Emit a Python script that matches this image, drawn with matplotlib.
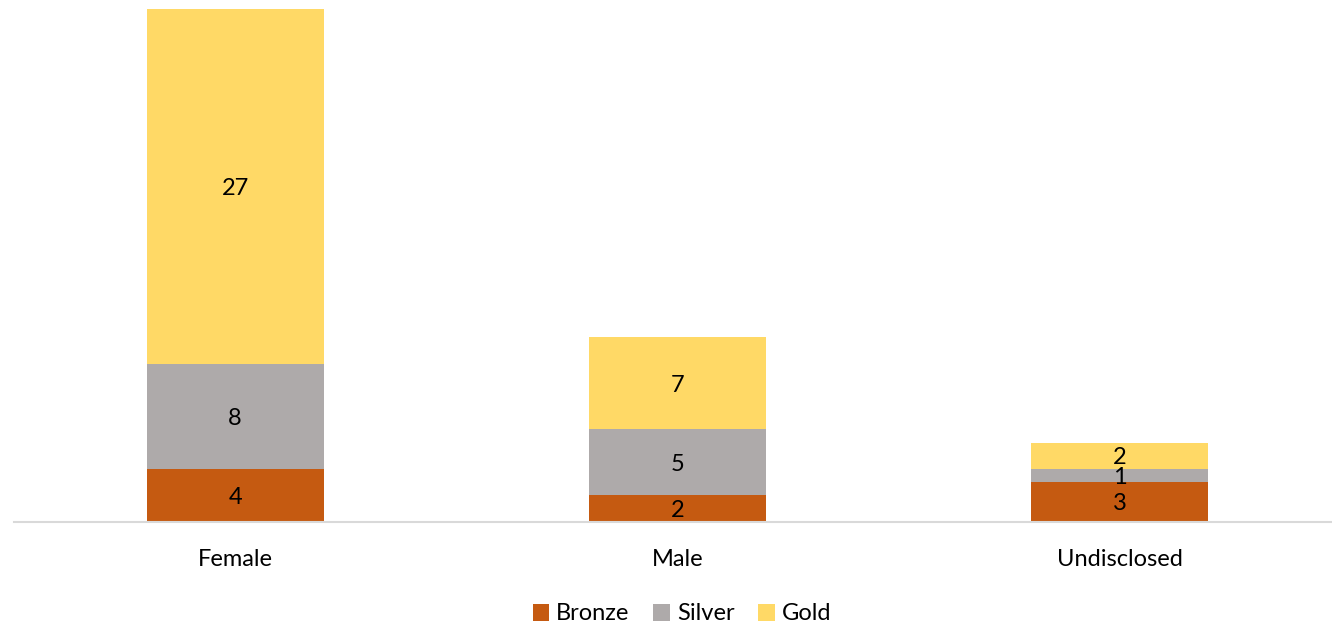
import matplotlib
matplotlib.use("Agg")
import matplotlib.pyplot as plt

categories = ["Female", "Male", "Undisclosed"]
bronze = [4, 2, 3]
silver = [8, 5, 1]
gold   = [27, 7, 2]

series = [("Bronze", bronze, "#C55A11"),
          ("Silver", silver, "#AEAAAA"),
          ("Gold",   gold,   "#FFD966")]

plt.rcParams["font.family"] = ["Lato", "DejaVu Sans"]

W, H = 1332, 624
fig = plt.figure(figsize=(W / 100, H / 100), dpi=100)

px_per_unit = 13.15
base_y = 102.5
ax = fig.add_axes([14 / W, base_y / H, (W - 14) / W, 39.5 * px_per_unit / H])

x = range(len(categories))
bottom = [0] * len(categories)
for name, vals, col in series:
    ax.bar(x, vals, width=0.4, bottom=bottom, color=col, label=name, zorder=2)
    for xi, b, v in zip(x, bottom, vals):
        ax.text(xi, b + v / 2, str(v), ha="center", va="center_baseline",
                fontsize=17, color="black", zorder=3)
    bottom = [b + v for b, v in zip(bottom, vals)]

ax.set_xlim(-0.5, 2.5 - 9 / 442)
ax.set_ylim(0, 39.5)
ax.set_yticks([])
ax.set_xticks(list(x))
ax.set_xticklabels(categories, fontsize=17)
ax.tick_params(axis="x", length=0, pad=20)
for s in ["top", "right", "left"]:
    ax.spines[s].set_visible(False)
ax.spines["bottom"].set_color("#D9D9D9")
ax.spines["bottom"].set_linewidth(1.5)

fig.legend(loc="center", bbox_to_anchor=(682 / W, 1 - 614 / H), ncol=3,
           frameon=False, fontsize=17, handlelength=0.7, handleheight=0.7,
           handletextpad=0.3, columnspacing=1.0)

fig.savefig("out.png", dpi=100)
